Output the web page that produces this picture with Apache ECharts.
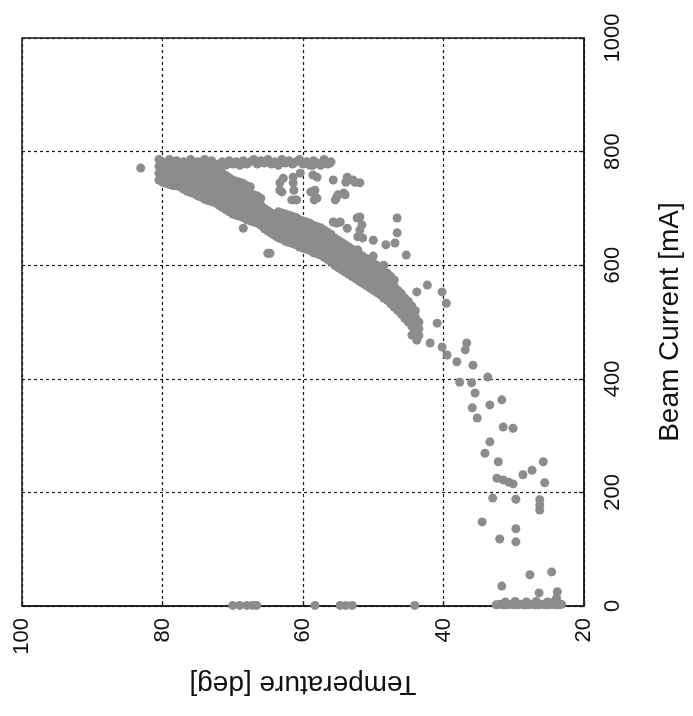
<!DOCTYPE html>
<html>
<head>
<meta charset="utf-8">
<script src="https://cdn.jsdelivr.net/npm/echarts@6/dist/echarts.min.js"></script>
<style>
html,body{margin:0;padding:0;background:#fff;}
#chart{width:693px;height:716px;}
</style>
</head>
<body>
<div id="chart"></div>
<script>
// Axis ticks
var tempTicks = [20, 40, 60, 80, 100];
var currentTicks = [0, 200, 400, 600, 800, 1000];

// Dense band: [temperature, [beam currents...]]
var bandRows = [
  [80.5, [750, 762, 774, 786]],
  [80, [746, 758, 770, 782]],
  [79.5, [744, 756, 768, 780]],
  [79, [742, 754, 766, 778, 786]],
  [78.5, [740, 752, 764, 776]],
  [78, [740, 752, 764, 776, 784]],
  [77.5, [738, 750, 762, 774]],
  [77, [734, 746, 758, 770, 782]],
  [76.5, [730, 742, 754, 766, 778]],
  [76, [728, 740, 752, 764, 776, 786]],
  [75.5, [726, 738, 750, 762, 774]],
  [75, [722, 734, 746, 758, 770, 782]],
  [74.5, [720, 732, 744, 756, 768, 780]],
  [74, [716, 728, 740, 752, 764, 776, 786]],
  [73.5, [714, 726, 738, 750, 762, 774]],
  [73, [712, 724, 736, 748, 760, 772, 784]],
  [72.5, [710, 722, 734, 746, 758, 770]],
  [72, [706, 718, 730, 742, 754, 766, 778]],
  [71.5, [702, 714, 726, 738, 750, 762, 782]],
  [71, [698, 710, 722, 734, 746, 758, 776]],
  [70.5, [694, 706, 718, 730, 742, 754, 784]],
  [70, [690, 702, 714, 726, 738, 750, 778]],
  [69.5, [688, 700, 712, 724, 736, 748, 782]],
  [69, [686, 698, 710, 722, 734, 746, 776]],
  [68.5, [684, 696, 708, 720, 732, 744, 784]],
  [68, [680, 692, 704, 716, 728, 740, 778]],
  [67.5, [678, 690, 702, 714, 726, 738, 782]],
  [67, [676, 688, 700, 712, 724, 786]],
  [66.5, [674, 686, 698, 710, 722, 778]],
  [66, [670, 682, 694, 706, 718, 784]],
  [65.5, [664, 676, 688, 700, 780]],
  [65, [660, 672, 684, 696, 786]],
  [64.5, [656, 668, 680, 692, 778]],
  [64, [652, 664, 676, 688, 782]],
  [63.5, [648, 660, 672, 684, 694, 776]],
  [63, [646, 658, 670, 682, 692, 786]],
  [62.5, [642, 654, 666, 678, 690, 780]],
  [62, [640, 652, 664, 676, 688, 784]],
  [61.5, [638, 650, 662, 674, 686, 778]],
  [61, [636, 648, 660, 672, 684, 782]],
  [60.5, [632, 644, 656, 668, 680, 786]],
  [60, [630, 642, 654, 666, 678, 778]],
  [59.5, [628, 640, 652, 664, 676, 782]],
  [59, [626, 638, 650, 662, 674, 776]],
  [58.5, [622, 634, 646, 658, 670, 784]],
  [58, [620, 632, 644, 656, 668, 780]],
  [57.5, [618, 630, 642, 654, 666, 776]],
  [57, [614, 626, 638, 650, 662, 786]],
  [56.5, [610, 622, 634, 646, 658, 778]],
  [56, [606, 618, 630, 642, 654, 782]],
  [55.5, [600, 612, 624, 636, 648]],
  [55, [596, 608, 620, 632, 644]],
  [54.5, [592, 604, 616, 628, 640]],
  [54, [588, 600, 612, 624, 636]],
  [53.5, [584, 596, 608, 620, 632]],
  [53, [580, 592, 604, 616, 628]],
  [52.5, [576, 588, 600, 612, 624]],
  [52, [572, 584, 596, 608, 620]],
  [51.5, [568, 580, 592, 604, 616]],
  [51, [564, 576, 588, 600, 612]],
  [50.5, [560, 572, 584, 596, 608]],
  [50, [556, 568, 580, 592, 604, 616]],
  [49.5, [552, 564, 576, 588, 600]],
  [49, [548, 560, 572, 584, 596]],
  [48.5, [542, 554, 566, 578, 590]],
  [48, [538, 550, 562, 574, 586]],
  [47.5, [532, 544, 556, 568, 580]],
  [47, [526, 538, 550, 562, 574]],
  [46.5, [520, 532, 544, 556]],
  [46, [514, 526, 538, 550]],
  [45.5, [506, 518, 530, 542]],
  [45, [500, 512, 524, 536]],
  [44.5, [492, 504, 516, 528]],
  [44, [484, 496, 508, 520]],
  [43.5, [476, 488, 500]]
];

// Scattered individual points [temperature, beam current]
var scatterPoints = [
  [83.1, 771],
  [63.3, 745], [63.0, 729], [60.9, 715], [61.4, 755], [58.6, 759], [58.7, 729],
  [58.0, 718], [55.4, 715], [54.0, 724], [54.7, 676], [53.7, 665], [52.2, 650],
  [52.2, 627], [53.7, 755], [51.9, 745], [56.2, 780], [64.7, 621], [68.5, 665],
  [58.6, 776], [57.2, 780], [58.0, 755], [58.3, 732], [55.2, 720], [52.9, 750],
  [55.2, 674], [51.9, 685], [51.6, 671], [51.5, 648], [50.0, 644], [62.8, 753],
  [61.4, 745], [63.3, 732], [61.1, 715], [60.4, 762], [65.0, 621], [55.7, 750],
  [53.9, 746], [52.6, 746], [58.9, 729], [58.4, 715], [55.0, 724], [54.2, 727],
  [61.6, 715], [61.3, 732], [52.3, 683], [51.9, 662], [55.7, 676], [46.6, 683],
  [46.6, 657], [51.9, 618], [48.2, 636], [46.9, 639], [45.3, 618], [48.5, 600],
  [48.2, 586],
  [43.8, 553], [42.3, 565], [40.2, 553], [39.6, 533], [40.9, 498], [44.5, 477],
  [43.8, 468], [41.9, 463], [40.2, 456], [39.5, 442], [38.1, 430], [36.7, 463],
  [36.9, 451], [35.8, 424], [37.7, 394], [36.0, 393], [35.5, 375], [33.7, 403],
  [33.4, 354], [35.9, 349], [31.7, 363], [35.2, 331], [31.5, 315], [30.1, 313],
  [33.4, 289], [34.1, 269], [32.2, 254], [25.8, 254], [28.7, 231], [27.4, 239],
  [32.4, 225], [31.5, 222], [30.7, 218], [30.1, 215], [25.6, 217], [33.0, 190],
  [29.7, 188], [26.3, 187], [26.3, 178], [26.3, 169], [34.5, 148], [29.7, 136],
  [32.0, 118], [29.7, 113], [27.7, 55], [24.6, 60], [31.7, 35], [26.4, 23],
  [23.8, 25], [23.9, 14]
];

// Points near zero beam current [temperature, beam current]
var zeroRowPoints = [
  [70.0, 1], [69.0, 1], [68.0, 1], [67.2, 1], [66.6, 1], [58.3, 1], [54.7, 1],
  [53.9, 1], [53.0, 1], [44.1, 1],
  [32.5, 2], [32.0, 3], [31.5, 2], [31.0, 2], [30.5, 3], [30.0, 2], [29.5, 2],
  [29.0, 3], [28.5, 2], [28.0, 2], [27.5, 3], [27.0, 2], [26.5, 2], [26.0, 3],
  [25.5, 2], [25.0, 2], [24.5, 3], [24.0, 2], [23.5, 2], [23.2, 3],
  [31.2, 7], [29.8, 8], [28.2, 7], [26.8, 8], [25.2, 7], [24.2, 8]
];

var allPoints = [];
bandRows.forEach(function (r) {
  r[1].forEach(function (v) { allPoints.push([r[0], v]); });
});
scatterPoints.forEach(function (p) { allPoints.push(p); });
zeroRowPoints.forEach(function (p) { allPoints.push(p); });

var font = "'Liberation Sans', Arial, sans-serif";
var chart = echarts.init(document.getElementById('chart'), null, {renderer: 'canvas'});
chart.setOption({
  animation: false,
  backgroundColor: '#ffffff',
  grid: {
    left: 22, right: 109, top: 38, bottom: 110,
    show: true, borderColor: '#1a1a1a', borderWidth: 1.5, backgroundColor: 'transparent'
  },
  xAxis: {
    type: 'value',
    min: tempTicks[0], max: tempTicks[tempTicks.length - 1], interval: 20,
    inverse: true,
    position: 'bottom',
    name: 'Temperature [deg]',
    nameLocation: 'middle',
    nameRotate: 180,
    nameGap: 64,
    nameTextStyle: {fontSize: 28, color: '#111', fontFamily: font},
    axisLine: {show: true, lineStyle: {color: '#1a1a1a', width: 1.5}},
    axisTick: {show: true, inside: true, length: 5, lineStyle: {color: '#1a1a1a', width: 1.2}},
    axisLabel: {rotate: 90, fontSize: 22, color: '#111', fontFamily: font, margin: 12,
      formatter: function (v) { return String(v); }},
    splitLine: {show: true, lineStyle: {color: '#1a1a1a', width: 1.2, type: [3, 3]}}
  },
  yAxis: {
    type: 'value',
    min: currentTicks[0], max: currentTicks[currentTicks.length - 1], interval: 200,
    position: 'right',
    name: 'Beam Current [mA]',
    nameLocation: 'middle',
    nameRotate: 90,
    nameGap: 72,
    nameTextStyle: {fontSize: 28, color: '#111', fontFamily: font},
    axisLine: {show: true, lineStyle: {color: '#1a1a1a', width: 1.5}},
    axisTick: {show: true, inside: true, length: 5, lineStyle: {color: '#1a1a1a', width: 1.2}},
    axisLabel: {rotate: 90, fontSize: 22, color: '#111', fontFamily: font, margin: 18,
      formatter: function (v) { return String(v); }},
    splitLine: {show: true, lineStyle: {color: '#1a1a1a', width: 1.2, type: [3, 3]}}
  },
  series: [{
    type: 'scatter',
    data: allPoints,
    symbol: 'circle',
    symbolSize: 9,
    itemStyle: {color: '#8c8c8c', opacity: 1}
  }]
});
</script>
</body>
</html>
